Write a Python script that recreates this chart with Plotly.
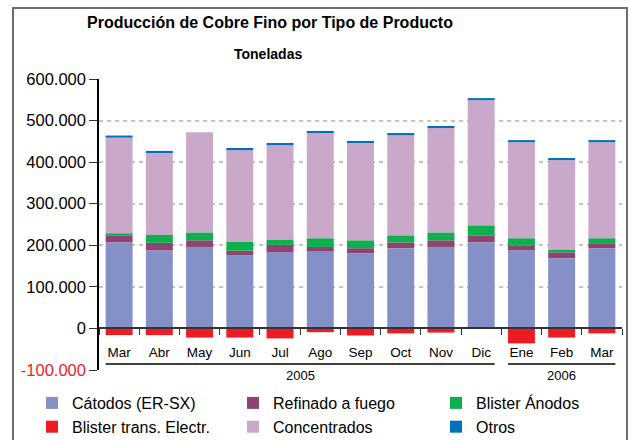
import plotly.graph_objects as go

# Producción de cobre fino por tipo de producto (toneladas)
years = ["2005"] * 10 + ["2006"] * 3
months = ["Mar", "Abr", "May", "Jun", "Jul", "Ago", "Sep", "Oct", "Nov", "Dic", "Ene", "Feb", "Mar"]

catodos = [207000, 188000, 196000, 176000, 183000, 186000, 181000, 193000, 196000, 207000, 188000, 169000, 193000]
refinado = [17000, 18000, 16000, 11000, 18000, 10000, 12000, 14000, 16000, 17000, 12000, 14000, 12000]
blister_anodos = [5000, 19000, 19000, 21000, 13000, 21000, 19000, 17000, 19000, 24000, 17000, 7000, 12000]
blister_trans = [-16000, -16000, -22000, -22000, -24000, -9000, -17000, -12000, -10000, 0, -36000, -22000, -12000]
concentrados = [230000, 197000, 241000, 221000, 227000, 253000, 234000, 241000, 251000, 301000, 231000, 215000, 231000]
otros = [5000, 5000, 0, 5000, 5000, 5000, 5000, 5000, 5000, 5000, 5000, 5000, 5000]

ytick_vals = [-100000, 0, 100000, 200000, 300000, 400000, 500000, 600000]

# (nombre, valores, color, columna de leyenda)
series = [
    ("Cátodos (ER-SX)", catodos, "#8490c6", "legend"),
    ("Refinado a fuego", refinado, "#8e4473", "legend2"),
    ("Blister Ánodos", blister_anodos, "#0db04b", "legend3"),
    ("Blister trans. Electr.", blister_trans, "#ed1c24", "legend"),
    ("Concentrados", concentrados, "#c9a8ca", "legend2"),
    ("Otros", otros, "#0071bc", "legend3"),
]

font = "Liberation Sans, Arial, sans-serif"

# claves únicas por mes/año (hay dos "Mar")
x_keys = [f"{m} {y}" for m, y in zip(months, years)]

fig = go.Figure()
for name, vals, color, leg in series:
    fig.add_trace(go.Bar(
        x=x_keys, y=vals, name=name, legend=leg,
        marker=dict(color=color, line=dict(width=0)),
    ))


def fmt(v):
    s = f"{v:,}".replace(",", ".")
    if v < 0:
        return f'<span style="color:#ed1c24">{s}</span>'
    return s


ymin, ymax = ytick_vals[0], ytick_vals[-1]
zero_pos = (0 - ymin) / (ymax - ymin)

W, H = 629, 440
ml, mr, mt, mb = 99, 7, 79, 70
pw, ph = W - ml - mr, H - mt - mb


def px_x(p):
    return (p - ml) / pw


def px_y(p):
    return (H - mb - p) / ph


n = len(months)
half = 0.335
shapes = []
annotations = []
for yr in ["2005", "2006"]:
    idx = [i for i, y in enumerate(years) if y == yr]
    x0 = (idx[0] + 0.5 - half) / n
    x1 = (idx[-1] + 0.5 + half) / n
    shapes.append(dict(type="line", xref="paper", yref="paper",
                       x0=x0, x1=x1, y0=px_y(364), y1=px_y(364),
                       line=dict(color="black", width=1.5)))
    annotations.append(dict(text=yr, xref="paper", yref="paper",
                            x=(x0 + x1) / 2, y=px_y(375), xanchor="center", yanchor="middle",
                            showarrow=False, font=dict(family=font, size=13, color="black")))

# marco exterior
shapes.append(dict(type="rect", xref="paper", yref="paper",
                   x0=px_x(13), x1=px_x(627), y0=px_y(8), y1=px_y(460),
                   line=dict(color="#6e6e6e", width=2), layer="above"))

annotations.append(dict(text="<b>Producción de Cobre Fino por Tipo de Producto</b>",
                        xref="paper", yref="paper", x=px_x(270), y=px_y(22),
                        xanchor="center", yanchor="middle",
                        showarrow=False, font=dict(family=font, size=16, color="black")))
annotations.append(dict(text="<b>Toneladas</b>", xref="paper", yref="paper",
                        x=px_x(268), y=px_y(54), xanchor="center", yanchor="middle",
                        showarrow=False, font=dict(family=font, size=14, color="black")))


def legend_col(px_left):
    return dict(orientation="v", xref="container", yref="container",
                x=px_left / W, y=1 - 386 / H, xanchor="left", yanchor="top",
                font=dict(family=font, size=16, color="black"),
                traceorder="normal", bgcolor="rgba(0,0,0,0)")


fig.update_layout(
    width=W, height=H,
    margin=dict(l=ml, r=mr, t=mt, b=mb, autoexpand=False),
    barmode="relative",
    bargap=0.33,
    plot_bgcolor="white",
    paper_bgcolor="white",
    showlegend=True,
    legend=legend_col(32),
    legend2=legend_col(233),
    legend3=legend_col(436),
    xaxis=dict(
        type="category", anchor="free", position=zero_pos,
        tickmode="array", tickvals=x_keys, ticktext=months,
        showgrid=False, showline=True,
        linecolor="#333333", linewidth=2,
        ticks="outside", tickson="boundaries", ticklen=6, tickcolor="#333333",
        ticklabelstandoff=11,
        tickfont=dict(family=font, size=13.5, color="black"),
        zeroline=False,
    ),
    yaxis=dict(
        range=[ymin, ymax], tickvals=ytick_vals, ticktext=[fmt(v) for v in ytick_vals],
        showgrid=True, gridcolor="#c4c4c4", griddash="4px,4px", gridwidth=1.5,
        showline=True, linecolor="black", linewidth=1.5,
        ticks="outside", ticklen=8, tickcolor="#333333",
        tickfont=dict(family=font, size=16.5, color="black"),
        zeroline=False,
    ),
    shapes=shapes,
    annotations=annotations,
)

fig.write_html("out.html", config={"displayModeBar": False},
               post_script="document.body.style.margin='0';")
